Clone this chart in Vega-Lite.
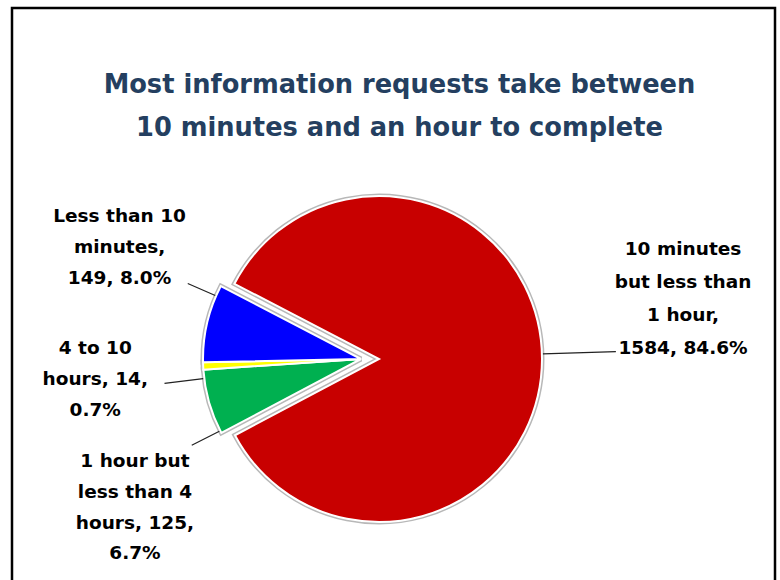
{
  "$schema": "https://vega.github.io/schema/vega-lite/v6.json",
  "width": 763,
  "height": 575,
  "autosize": "none",
  "padding": {"left": 12, "top": 8, "right": 5, "bottom": 0},
  "background": "white",
  "view": {"stroke": "#000000", "strokeWidth": 2.5},
  "title": {
    "text": ["Most information requests take between", "10 minutes and an hour to complete"],
    "font": "DejaVu Sans", "fontSize": 25.7, "fontWeight": "bold", "color": "#243F60",
    "lineHeight": 43, "anchor": "middle", "offset": -134, "dx": 6
  },
  "data": {"values": [
    {"cat": "1 hour but less than 4 hours", "n": 125, "idx": 1, "label": "1 hour but\nless than 4\nhours, 125,\n6.7%"},
    {"cat": "4 to 10 hours", "n": 14, "idx": 2, "label": "4 to 10\nhours, 14,\n0.7%"},
    {"cat": "Less than 10 minutes", "n": 149, "idx": 3, "label": "Less than 10\nminutes,\n149, 8.0%"},
    {"cat": "10 minutes but less than 1 hour", "n": 1584, "idx": 4, "label": "10 minutes\nbut less than\n1 hour,\n1584, 84.6%"}
  ]},
  "encoding": {
    "theta": {"field": "n", "type": "quantitative", "stack": true, "scale": {"range": [4.2255, 10.5087]}},
    "order": {"field": "idx", "type": "quantitative"},
    "detail": {"field": "cat", "type": "nominal"},
    "color": {
      "field": "cat", "type": "nominal", "legend": null,
      "scale": {
        "domain": ["1 hour but less than 4 hours", "4 to 10 hours", "Less than 10 minutes", "10 minutes but less than 1 hour"],
        "range": ["#00B050", "#FFFF00", "#0000FF", "#C80000"]
      }
    }
  },
  "layer": [
    {
      "mark": {"type": "arc", "outerRadius": 163, "xOffset": -14.5, "yOffset": 63.5, "stroke": "#b8b8b8", "strokeWidth": 5},
      "encoding": {"opacity": {"condition": {"test": "datum.cat === '10 minutes but less than 1 hour'", "value": 1}, "value": 0}}
    },
    {
      "mark": {"type": "arc", "outerRadius": 163, "xOffset": -14.5, "yOffset": 63.5, "stroke": "#ffffff", "strokeWidth": 2},
      "encoding": {"opacity": {"condition": {"test": "datum.cat === '10 minutes but less than 1 hour'", "value": 1}, "value": 0}}
    },
    {
      "mark": {"type": "arc", "outerRadius": 158, "xOffset": -32.5, "yOffset": 63.5, "stroke": "#b8b8b8", "strokeWidth": 5},
      "encoding": {"opacity": {"condition": {"test": "datum.cat !== '10 minutes but less than 1 hour'", "value": 1}, "value": 0}}
    },
    {
      "mark": {"type": "arc", "outerRadius": 158, "xOffset": -32.5, "yOffset": 63.5, "stroke": "#ffffff", "strokeWidth": 2},
      "encoding": {"opacity": {"condition": {"test": "datum.cat !== '10 minutes but less than 1 hour'", "value": 1}, "value": 0}}
    },
    {
      "mark": {"type": "arc", "innerRadius": 164, "outerRadius": 237, "padAngle": 3.14, "thetaOffset": -3.1285, "xOffset": -14.5, "yOffset": 63.5, "stroke": "#222222", "strokeWidth": 1.2, "fillOpacity": 0},
      "encoding": {"opacity": {"condition": {"test": "datum.cat === '4 to 10 hours'", "value": 1}, "value": 0}}
    },
    {
      "mark": {"type": "arc", "innerRadius": 159, "outerRadius": 198, "padAngle": 3.14, "thetaOffset": -0.0794, "xOffset": -32.5, "yOffset": 63.5, "stroke": "#222222", "strokeWidth": 1.2, "fillOpacity": 0},
      "encoding": {"opacity": {"condition": {"test": "datum.cat === '4 to 10 hours'", "value": 1}, "value": 0}}
    },
    {
      "mark": {"type": "arc", "innerRadius": 159, "outerRadius": 189, "padAngle": 3.14, "thetaOffset": 0.1815, "xOffset": -32.5, "yOffset": 63.5, "stroke": "#222222", "strokeWidth": 1.2, "fillOpacity": 0},
      "encoding": {"opacity": {"condition": {"test": "datum.cat === 'Less than 10 minutes'", "value": 1}, "value": 0}}
    },
    {
      "mark": {"type": "arc", "innerRadius": 159, "outerRadius": 190, "padAngle": 3.14, "thetaOffset": -0.1946, "xOffset": -32.5, "yOffset": 63.5, "stroke": "#222222", "strokeWidth": 1.2, "fillOpacity": 0},
      "encoding": {"opacity": {"condition": {"test": "datum.cat === '1 hour but less than 4 hours'", "value": 1}, "value": 0}}
    },
    {
      "mark": {"type": "text", "radius": 304, "xOffset": -14.5, "yOffset": 63.5, "dy": -109, "font": "DejaVu Sans", "fontSize": 18.5, "fontWeight": "bold", "lineBreak": "\n", "lineHeight": 33, "align": "center", "baseline": "middle"},
      "encoding": {
        "color": {"value": "#000000"},
        "text": {"condition": {"test": "datum.cat === '10 minutes but less than 1 hour'", "field": "label"}, "value": ""}
      }
    },
    {
      "mark": {"type": "text", "radius": 250, "xOffset": -32.5, "yOffset": 63.5, "dx": 2, "dy": -86, "font": "DejaVu Sans", "fontSize": 18.5, "fontWeight": "bold", "lineBreak": "\n", "lineHeight": 31, "align": "center", "baseline": "middle"},
      "encoding": {
        "color": {"value": "#000000"},
        "text": {"condition": {"test": "datum.cat === 'Less than 10 minutes'", "field": "label"}, "value": ""}
      }
    },
    {
      "mark": {"type": "text", "radius": 266, "xOffset": -32.5, "yOffset": 63.5, "dy": -23, "font": "DejaVu Sans", "fontSize": 18.5, "fontWeight": "bold", "lineBreak": "\n", "lineHeight": 31, "align": "center", "baseline": "middle"},
      "encoding": {
        "color": {"value": "#000000"},
        "text": {"condition": {"test": "datum.cat === '4 to 10 hours'", "field": "label"}, "value": ""}
      }
    },
    {
      "mark": {"type": "text", "radius": 235, "xOffset": -32.5, "yOffset": 63.5, "dy": 38, "font": "DejaVu Sans", "fontSize": 18.5, "fontWeight": "bold", "lineBreak": "\n", "lineHeight": 30.7, "align": "center", "baseline": "middle"},
      "encoding": {
        "color": {"value": "#000000"},
        "text": {"condition": {"test": "datum.cat === '1 hour but less than 4 hours'", "field": "label"}, "value": ""}
      }
    }
  ]
}
